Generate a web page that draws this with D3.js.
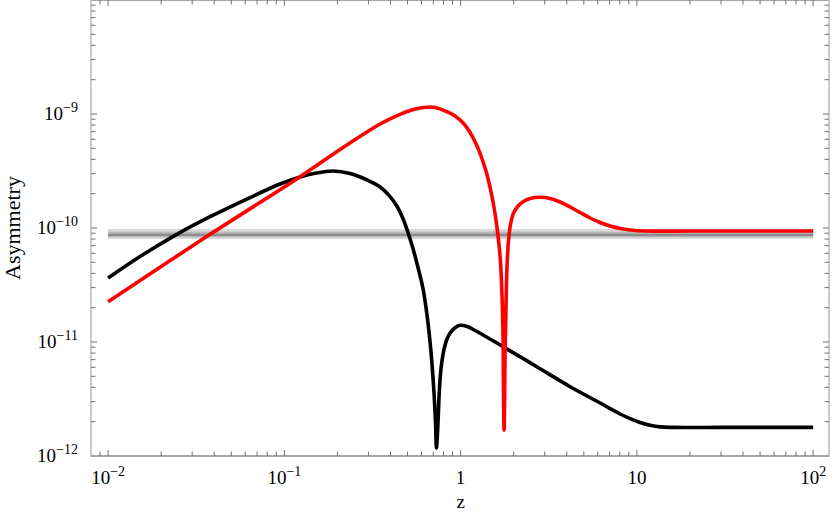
<!DOCTYPE html>
<html>
<head>
<meta charset="utf-8">
<script src="https://cdn.jsdelivr.net/npm/d3@7"></script>
<style>
  body { margin: 0; background: #fff; }
  text { font-family: "Liberation Serif", "Times New Roman", serif; fill: #000; }
</style>
</head>
<body>
<svg id="chart" width="834" height="515"></svg>
<script>
// values
var blackZ = [0.01, 0.01519, 0.02454, 0.0379, 0.0639, 0.0946, 0.1229, 0.1494, 0.1891, 0.236, 0.2947, 0.3494, 0.398,
  0.4363, 0.4719, 0.5038, 0.5377, 0.5741, 0.6125, 0.6499, 0.6775, 0.7047, 0.7214, 0.729,
  0.7453, 0.7551, 0.768, 0.7852, 0.806, 0.8329, 0.8716, 0.9186, 0.994, 1.089, 1.209,
  1.742, 2.705, 4.18, 6.186, 7.051, 8.035, 9.156, 10.43, 11.89, 13.55, 15.85, 30, 60, 100];
var blackA = [3.64e-11, 5.623e-11, 8.80e-11, 1.256e-10, 1.851e-10, 2.432e-10, 2.802e-10, 3.018e-10, 3.162e-10, 3.006e-10, 2.637e-10, 2.289e-10, 1.882e-10,
  1.544e-10, 1.199e-10, 9.04e-11, 6.54e-11, 4.458e-11, 2.917e-11, 1.560e-11, 8.51e-12, 3.793e-12, 1.870e-12, 1.176e-12,
  2.069e-12, 3.428e-12, 5.135e-12, 6.95e-12, 8.683e-12, 1.041e-11, 1.199e-11, 1.314e-11, 1.401e-11, 1.368e-11, 1.262e-11,
  9.09e-12, 6.07e-12, 4.055e-12, 2.917e-12, 2.600e-12, 2.336e-12, 2.128e-12, 1.968e-12, 1.859e-12, 1.800e-12, 1.782e-12, 1.782e-12, 1.782e-12, 1.782e-12];

var redZ = [0.01, 0.0379, 0.1229, 0.2071, 0.3066, 0.3494, 0.398, 0.4536, 0.5172, 0.5891, 0.6456, 0.7166, 0.8349, 0.9307,
  1.037, 1.132, 1.236, 1.324, 1.408, 1.489, 1.569, 1.675, 1.735, 1.749, 1.756, 1.765, 1.777, 1.788, 1.803,
  1.812, 1.835, 1.871, 1.921, 1.998, 2.119, 2.272, 2.48, 2.826, 3.22, 3.668, 4.181, 4.764, 5.429, 6.186,
  7.051, 8.035, 9.156, 11.14, 20, 50, 100];
var redA = [2.258e-11, 8.80e-11, 2.818e-10, 4.883e-10, 7.24e-10, 8.173e-10, 9.076e-10, 9.94e-10, 1.073e-9, 1.129e-9, 1.147e-9, 1.140e-9, 1.048e-9, 9.61e-10,
  8.288e-10, 6.88e-10, 5.293e-10, 4.029e-10, 2.976e-10, 2.069e-10, 1.326e-10, 5.60e-11, 1.468e-11, 4.64e-12, 2.532e-12, 1.69e-12, 3.098e-12, 8.51e-12, 1.468e-11,
  2.336e-11, 4.735e-11, 7.846e-11, 1.084e-10, 1.354e-10, 1.560e-10, 1.708e-10, 1.815e-10, 1.859e-10, 1.815e-10, 1.690e-10, 1.528e-10, 1.368e-10, 1.224e-10, 1.117e-10,
  1.041e-10, 9.90e-11, 9.61e-11, 9.41e-11, 9.41e-11, 9.41e-11, 9.41e-11];

// observed band (outer, middle, centre)
var bandZ = [0.01, 100];
var bandOuter = [8.0e-11, 9.8e-11];
var bandMid = [8.3e-11, 9.3e-11];
var bandCentre = [8.5e-11, 8.9e-11];

var xTicks = [0.01, 0.1, 1, 10, 100];
var xTickLabels = [["10", "\u22122"], ["10", "\u22121"], ["1", ""], ["10", ""], ["10", "2"]];
var yTicks = [1e-12, 1e-11, 1e-10, 1e-9];
var yTickLabels = [["10", "\u221212"], ["10", "\u221211"], ["10", "\u221210"], ["10", "\u22129"]];

var svg = d3.select("#chart"),
    margin = {top: 0, right: 5, bottom: 59, left: 91},
    width = 834 - margin.left - margin.right,
    height = 515 - margin.top - margin.bottom,
    g = svg.append("g").attr("transform", "translate(" + margin.left + "," + margin.top + ")");

var x = d3.scaleLog().domain([0.008, 123]).range([0, width]);
var y = d3.scaleLog().domain([1e-12, 1e-8]).range([height, 0]);

// minor ticks, every 1..9 of each decade
function minorTicks(lo, hi, dom) {
  var out = [];
  for (var e = lo; e <= hi; e++) {
    for (var k = 1; k <= 9; k++) {
      var v = k * Math.pow(10, e);
      if (v > dom[0] * 1.0001 && v < dom[1] * 0.9999) out.push(v);
    }
  }
  return out;
}
var xMinor = minorTicks(-3, 2, x.domain());
var yMinor = minorTicks(-13, -9, y.domain());

// band
function band(vals, fill) {
  g.append("rect")
      .attr("x", x(bandZ[0]))
      .attr("width", x(bandZ[1]) - x(bandZ[0]))
      .attr("y", y(vals[1]))
      .attr("height", y(vals[0]) - y(vals[1]))
      .attr("fill", fill);
}
band(bandOuter, "#d9d9d9");
band(bandMid, "#b8b8b8");
band(bandCentre, "#8c8c8c");

var line = d3.line()
    .x(function(d) { return x(d[0]); })
    .y(function(d) { return y(d[1]); })
    .curve(d3.curveCatmullRom.alpha(0.5));

g.append("path")
    .datum(d3.zip(blackZ, blackA))
    .attr("fill", "none")
    .attr("stroke", "#000")
    .attr("stroke-width", 3.6)
    .attr("d", line);

g.append("path")
    .datum(d3.zip(redZ, redA))
    .attr("fill", "none")
    .attr("stroke", "#ff0000")
    .attr("stroke-width", 3.6)
    .attr("d", line);

// frame
g.append("rect")
    .attr("x", 0).attr("y", 0.5)
    .attr("width", width).attr("height", height - 0.5)
    .attr("fill", "none")
    .attr("stroke", "#a8a8a8")
    .attr("stroke-width", 1.2);
g.append("line")
    .attr("x1", 0).attr("x2", width)
    .attr("y1", height).attr("y2", height)
    .attr("stroke", "#808080").attr("stroke-width", 1.2);

// ticks on all four sides, pointing in
var tickColor = "#707070";
var tk = g.append("g").attr("stroke", tickColor).attr("stroke-width", 1);
xMinor.forEach(function(v) {
  var len = xTicks.indexOf(v) >= 0 ? 6 : 4.5;
  tk.append("line").attr("x1", x(v)).attr("x2", x(v)).attr("y1", height).attr("y2", height - len);
  tk.append("line").attr("x1", x(v)).attr("x2", x(v)).attr("y1", 0).attr("y2", len);
});
yMinor.forEach(function(v) {
  var len = yTicks.indexOf(v) >= 0 ? 6 : 4.5;
  tk.append("line").attr("x1", 0).attr("x2", len).attr("y1", y(v)).attr("y2", y(v));
  tk.append("line").attr("x1", width).attr("x2", width - len).attr("y1", y(v)).attr("y2", y(v));
});

// tick labels
xTicks.forEach(function(v, i) {
  var t = g.append("text")
      .attr("x", x(v))
      .attr("y", 484)
      .attr("text-anchor", "middle")
      .style("font-size", "19px");
  t.append("tspan").text(xTickLabels[i][0]);
  if (xTickLabels[i][1]) {
    t.append("tspan").attr("dy", -8).style("font-size", "14px").text(xTickLabels[i][1]);
  }
});
yTicks.forEach(function(v, i) {
  var t = g.append("text")
      .attr("x", -13)
      .attr("y", y(v) + 6)
      .attr("text-anchor", "end")
      .style("font-size", "19px");
  t.append("tspan").text(yTickLabels[i][0]);
  t.append("tspan").attr("dy", -8).style("font-size", "14px").text(yTickLabels[i][1]);
});

// axis titles
svg.append("text")
    .attr("x", margin.left + x(1))
    .attr("y", 508)
    .attr("text-anchor", "middle")
    .style("font-size", "19px")
    .text("z");

svg.append("text")
    .attr("transform", "translate(20," + y(1e-10) + ") rotate(-90)")
    .attr("text-anchor", "middle")
    .style("font-size", "22px")
    .text("Asymmetry");
</script>
</body>
</html>
